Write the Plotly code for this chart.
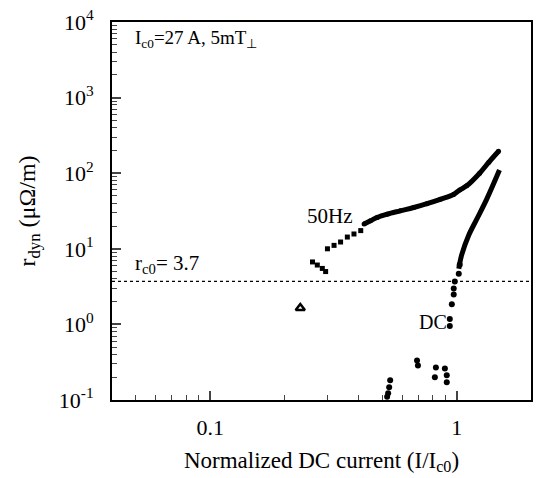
import plotly.graph_objects as go
import numpy as np

# 50 Hz data (sparse low part and dense continuous part)
hz50_x_low = [0.260, 0.272, 0.285, 0.294, 0.299, 0.318, 0.338, 0.360, 0.383, 0.408]
hz50_y_low = [6.7, 6.1, 5.5, 5.0, 10.0, 11.1, 12.3, 14.3, 15.7, 17.4]
hz50_x = [0.421, 0.447, 0.476, 0.522, 0.590, 0.669, 0.757, 0.857, 0.970, 1.028, 1.097, 1.238, 1.35, 1.477]
hz50_y = [21.3, 23.5, 26.0, 28.7, 31.8, 35.2, 39.5, 45.1, 52.4, 60, 68, 100, 140, 195]

# DC data: continuous upper part and scattered dots
dc_x = [1.019, 1.047, 1.118, 1.204, 1.32, 1.49]
dc_y = [5.45, 8.3, 15.1, 24.5, 44.7, 110]
dc_x_pts = [1.028, 1.019, 0.982, 0.972, 0.972, 0.955, 0.937, 0.937,
            0.690, 0.696, 0.823, 0.815, 0.895, 0.911, 0.911,
            0.537, 0.532, 0.527, 0.522]
dc_y_pts = [6.15, 4.69, 3.69, 2.99, 2.49, 1.85, 1.18, 0.95,
            0.333, 0.286, 0.27, 0.20, 0.262, 0.212, 0.172,
            0.182, 0.148, 0.123, 0.11]

tri_x = [0.232]
tri_y = [1.65]

rc0 = 3.7
x_range = [0.04, 2.0]
y_tickvals = [0.1, 1, 10, 100, 1000, 10000]
y_ticktext = ["10<sup>-1</sup>", "10<sup>0</sup>", "10<sup>1</sup>", "10<sup>2</sup>", "10<sup>3</sup>", "10<sup>4</sup>"]
x_tickvals = [0.1, 1]
x_ticktext = ["0.1", "1"]

x_minor = [m * d for d in (0.01, 0.1, 1) for m in range(2, 10) if 0.04 <= m * d <= 2.0]
y_minor = [m * d for d in (0.1, 1, 10, 100, 1000) for m in range(2, 10)]

FONT = "Liberation Serif, Times New Roman, serif"

fig = go.Figure()
fig.add_trace(go.Scatter(x=x_range, y=[rc0, rc0], mode="lines",
                         line=dict(color="black", width=1.2, dash="dot"), showlegend=False))
fig.add_trace(go.Scatter(x=hz50_x_low, y=hz50_y_low, mode="markers",
                         marker=dict(symbol="square", size=5, color="black"), showlegend=False))
fig.add_trace(go.Scatter(x=hz50_x, y=hz50_y, mode="lines+markers",
                         line=dict(color="black", width=5, shape="spline"),
                         marker=dict(size=5, color="black"), showlegend=False))
fig.add_trace(go.Scatter(x=dc_x, y=dc_y, mode="lines",
                         line=dict(color="black", width=5, shape="spline"), showlegend=False))
fig.add_trace(go.Scatter(x=dc_x_pts, y=dc_y_pts, mode="markers",
                         marker=dict(symbol="circle", size=6, color="black"), showlegend=False))
fig.add_trace(go.Scatter(x=tri_x, y=tri_y, mode="markers",
                         marker=dict(symbol="triangle-up-open", size=8, color="black",
                                     line=dict(width=2.5, color="black")), showlegend=False))

fig.update_xaxes(type="log", range=[np.log10(x_range[0]), np.log10(x_range[1])],
                 tickvals=x_tickvals, ticktext=x_ticktext,
                 ticks="inside", ticklen=9, tickwidth=1.5, showline=True, linewidth=2,
                 linecolor="black", mirror=True, showgrid=False, zeroline=False,
                 ticklabelstandoff=7,
                 minor=dict(tickvals=x_minor, ticks="inside", ticklen=5, tickwidth=1, showgrid=False),
                 tickfont=dict(family=FONT, size=22, color="black"),
                 title=dict(text="Normalized DC current (I/I<sub>c0</sub>)",
                            font=dict(family=FONT, size=23, color="black"), standoff=12))
fig.update_yaxes(type="log", range=[-1, 4],
                 tickvals=y_tickvals, ticktext=y_ticktext,
                 ticks="inside", ticklen=9, tickwidth=1.5, showline=True, linewidth=2,
                 linecolor="black", mirror=True, showgrid=False, zeroline=False,
                 ticklabelstandoff=12,
                 minor=dict(tickvals=y_minor, ticks="inside", ticklen=5, tickwidth=1, showgrid=False),
                 tickfont=dict(family=FONT, size=22, color="black"),
                 title=dict(text="r<sub>dyn</sub> (μΩ/m)",
                            font=dict(family=FONT, size=24, color="black"), standoff=16))

ann_font = dict(family=FONT, size=19, color="black")
fig.add_annotation(xref="paper", yref="paper", x=0.05, y=0.955, xanchor="left", yanchor="middle",
                   text="I<sub>c0</sub>=27 A, 5mT<sub>⊥</sub>", showarrow=False, font=ann_font)
fig.add_annotation(xref="paper", yref="paper", x=0.52, y=0.486, xanchor="center", yanchor="middle",
                   text="50Hz", showarrow=False, font=dict(family=FONT, size=21, color="black"))
fig.add_annotation(xref="paper", yref="paper", x=0.05, y=0.36, xanchor="left", yanchor="middle",
                   text="r<sub>c0</sub>= 3.7", showarrow=False, font=dict(family=FONT, size=21, color="black"))
fig.add_annotation(xref="paper", yref="paper", x=0.765, y=0.206, xanchor="center", yanchor="middle",
                   text="DC", showarrow=False, font=dict(family=FONT, size=20, color="black"))

fig.update_layout(width=539, height=478, margin=dict(l=112, r=6, t=17, b=78),
                  plot_bgcolor="white", paper_bgcolor="white", showlegend=False)
fig.write_html("out.html")
